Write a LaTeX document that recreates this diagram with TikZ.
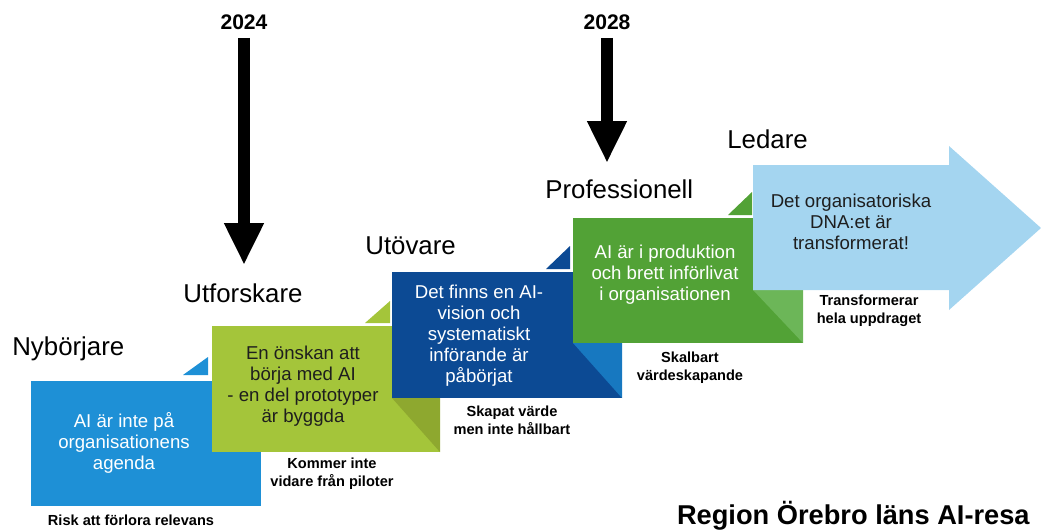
\documentclass[tikz,border=0pt]{standalone}
\usepackage{fontspec}
\setmainfont{Liberation Sans}
\usetikzlibrary{arrows.meta}

\definecolor{stepblue}{RGB}{30,144,214}
\definecolor{steplime}{RGB}{164,197,58}
\definecolor{limefold}{RGB}{142,168,47}
\definecolor{stepnavy}{RGB}{12,74,148}
\definecolor{navyfold}{RGB}{23,120,192}
\definecolor{stepgreen}{RGB}{82,162,54}
\definecolor{greenfold}{RGB}{108,182,88}
\definecolor{stepsky}{RGB}{164,213,240}
\definecolor{darktext}{RGB}{30,30,30}

\begin{document}
\begin{tikzpicture}[x=0.02cm,y=-0.02cm,
  steptitle/.style={right,inner sep=0pt,font=\fontsize{14.7}{17}\selectfont},
  boxtext/.style={align=center,inner sep=0pt,font=\fontsize{10.6}{12}\selectfont},
  stepnote/.style={align=center,inner sep=0pt,font=\bfseries\fontsize{8.3}{10}\selectfont},
  yearlabel/.style={inner sep=0pt,font=\bfseries\fontsize{12}{14}\selectfont},
  yeararrow/.style={line width=0.25cm,shorten <=0.16cm,-{Triangle[length=0.84cm,width=0.74cm]}}]

\useasboundingbox (0,0) rectangle (1041,531);

% steps
\fill[stepblue] (31,381) rectangle (261,506);
\fill[stepblue] (183,375) -- (208,375) -- (208,357) -- cycle;

\fill[steplime] (212,326) rectangle (440,452);
\fill[steplime] (365,323) -- (390,323) -- (390,301) -- cycle;
\fill[limefold] (392,398) -- (440,398) -- (440,452) -- cycle;

\fill[stepnavy] (392,272) rectangle (622,398);
\fill[stepnavy] (546,269) -- (570,269) -- (570,246) -- cycle;
\fill[navyfold] (573,343) -- (622,343) -- (622,398) -- cycle;

\fill[stepgreen] (573,218) rectangle (803,343);
\fill[stepgreen] (728,215) -- (752,215) -- (752,192) -- cycle;
\fill[greenfold] (753,290) -- (803,290) -- (803,343) -- cycle;

\fill[stepsky] (753,165) -- (949,165) -- (949,146) -- (1041,228) -- (949,310) -- (949,290) -- (753,290) -- cycle;

% titles
\node[steptitle] (nyb) at (12,349) {Nybörjare};
\node[steptitle] (utf) at (183,293) {Utforskare};
\node[steptitle] (utv) at (365,246) {Utövare};
\node[steptitle] (pro) at (545,189) {Professionell};
\node[steptitle] (led) at (727,139) {Ledare};

% box texts
\node[boxtext,text=white] (b1) at (124,443) {\fontsize{10.6}{13}\selectfont AI är inte på\\organisationens\\agenda};
\node[boxtext,text=darktext] (b2) at (303,386) {En önskan att\\börja med AI\\- en del prototyper\\är byggda};
\node[boxtext,text=white] (b3) at (479,336) {Det finns en AI-\\vision och\\systematiskt\\införande är\\påbörjat};
\node[boxtext,text=white] (b4) at (665,275) {AI är i produktion\\och brett införlivat\\i organisationen};
\node[boxtext,text=darktext] (b5) at (851,222) {Det organisatoriska\\DNA:et är\\transformerat!};

% notes
\node[stepnote] (n1) at (131,520) {Risk att förlora relevans};
\node[stepnote] (n2) at (332,474) {Kommer inte\\vidare från piloter};
\node[stepnote] (n3) at (512,420) {Skapat värde\\men inte hållbart};
\node[stepnote] (n4) at (690,368) {Skalbart\\värdeskapande};
\node[stepnote] (n5) at (869,311) {Transformerar\\hela uppdraget};

% years
\node[yearlabel] (y24) at (244,22) {2024};
\coordinate (tip24) at (244,265);
\draw[yeararrow] (y24.south) -- (tip24);
\node[yearlabel] (y28) at (607,22) {2028};
\coordinate (tip28) at (607,163);
\draw[yeararrow] (y28.south) -- (tip28);

\node[left,inner sep=0pt,font=\bfseries\fontsize{15.5}{18}\selectfont] (head) at (1030,516) {Region Örebro läns AI-resa};
\end{tikzpicture}
\end{document}
